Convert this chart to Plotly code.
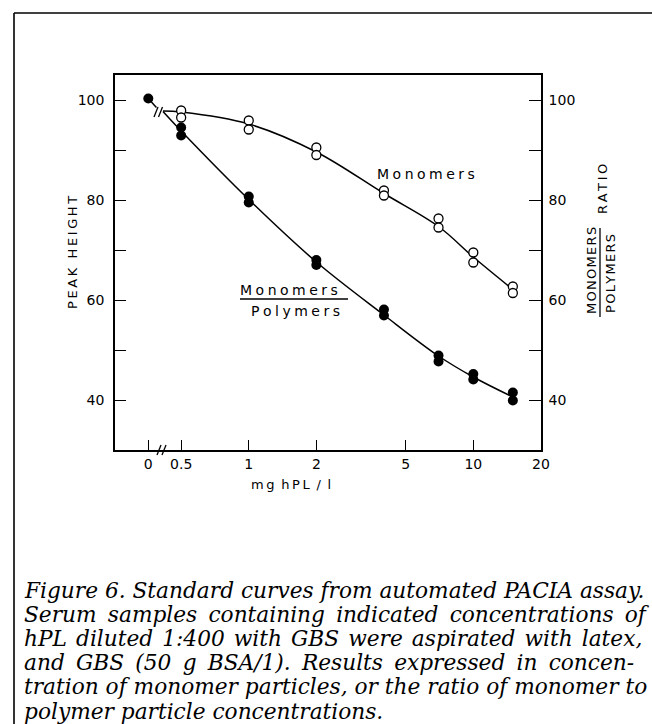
import math
import plotly.graph_objects as go

# ---------------- data ----------------
conc = [0.5, 1, 2, 4, 7, 10, 15]
mono_a = [97.9, 95.9, 90.5, 81.9, 76.3, 69.5, 62.7]
mono_b = [96.5, 94.1, 89.0, 80.9, 74.5, 67.5, 61.4]
ratio_a = [94.5, 80.7, 68.0, 58.1, 48.9, 45.2, 41.5]
ratio_b = [92.9, 79.5, 67.0, 56.9, 47.7, 44.1, 39.9]
ratio_zero = 100.3

# position used to draw the "0" concentration on the broken log axis
ZERO_POS = 0.357

# fitted curves
curve_x = [0.415, 0.5, 1, 2, 4, 7, 10, 15]
mono_curve = [97.8, 97.6, 95.2, 89.6, 81.3, 74.7, 68.6, 62.1]
ratio_curve = [97.7, 93.8, 80.1, 67.6, 57.0, 48.8, 44.6, 40.6]
ratio_lead_x = [ZERO_POS, 0.388]
ratio_lead_y = [ratio_zero, 98.5]

xtick_vals = [ZERO_POS, 0.5, 1, 2, 5, 10, 20]
xtick_text = ["0", "0.5", "1", "2", "5", "10", "20"]
ytick_vals = [40, 50, 60, 70, 80, 90, 100]
ytick_text = ["40", "", "60", "", "80", "", "100"]

caption = [
    "Figure 6. Standard curves from automated PACIA assay.",
    "Serum samples containing indicated concentrations of",
    "hPL diluted 1:400 with GBS were aspirated with latex,",
    "and GBS (50 g BSA/1). Results expressed in concen-",
    "tration of monomer particles, or the ratio of monomer to",
    "polymer particle concentrations.",
]
# extra inter-word spacing used to imitate the justified setting
caption_pad = ["", "\u2009", "\u200a", "\u2009", "", ""]

# ---------------- layout geometry (pixels) ----------------
W, H = 652, 724
L, R, T, B = 115, 541, 75, 450


def px(xp):
    return (xp - L) / (R - L)


def py(yp):
    return (B - yp) / (B - T)


def spaced(s, sep="\u2009"):
    return sep.join(list(s))


SANS = "DejaVu Sans"
fig = go.Figure()

LW = 1.5
fig.add_trace(go.Scatter(x=curve_x, y=mono_curve, mode="lines",
                         line=dict(color="black", width=LW, shape="spline", smoothing=1),
                         hoverinfo="skip", showlegend=False))
fig.add_trace(go.Scatter(x=curve_x, y=ratio_curve, mode="lines",
                         line=dict(color="black", width=LW, shape="spline", smoothing=1),
                         hoverinfo="skip", showlegend=False, yaxis="y2"))
fig.add_trace(go.Scatter(x=ratio_lead_x, y=ratio_lead_y, mode="lines",
                         line=dict(color="black", width=LW),
                         hoverinfo="skip", showlegend=False, yaxis="y2"))

for ys in (mono_a, mono_b):
    fig.add_trace(go.Scatter(x=conc, y=ys, mode="markers", name="Monomers",
                             marker=dict(symbol="circle", size=9, color="white",
                                         line=dict(color="black", width=1.3)),
                             showlegend=False))
for ys in (ratio_a, ratio_b):
    fig.add_trace(go.Scatter(x=conc, y=ys, mode="markers", name="Monomers/Polymers",
                             marker=dict(symbol="circle", size=10, color="black",
                                         line=dict(color="black", width=0)),
                             showlegend=False, yaxis="y2"))
fig.add_trace(go.Scatter(x=[ZERO_POS], y=[ratio_zero], mode="markers",
                         marker=dict(symbol="circle", size=10, color="black"),
                         showlegend=False, yaxis="y2"))

xr = [math.log10(0.2537), math.log10(20.02)]

axis_font = dict(family=SANS, size=14, color="black")
fig.update_layout(
    width=W, height=H,
    margin=dict(l=L, r=W - R, t=T, b=H - B),
    paper_bgcolor="white", plot_bgcolor="white",
    xaxis=dict(type="log", range=xr, tickvals=xtick_vals, ticktext=xtick_text,
               ticks="inside", ticklen=10, tickwidth=1.3, tickcolor="black",
               showline=True, linecolor="black", linewidth=1.6, mirror=True,
               showgrid=False, zeroline=False, tickfont=axis_font),
    yaxis=dict(range=[30, 105], tickvals=ytick_vals, ticktext=ytick_text,
               ticks="inside", ticklen=11, tickwidth=1.3, tickcolor="black",
               showline=True, linecolor="black", linewidth=1.6,
               ticklabelstandoff=6,
               showgrid=False, zeroline=False, tickfont=axis_font),
    yaxis2=dict(range=[30, 105], tickvals=ytick_vals, ticktext=ytick_text,
                overlaying="y", side="right",
                ticks="inside", ticklen=12, tickwidth=1.3, tickcolor="black",
                showline=True, linecolor="black", linewidth=1.6,
                ticklabelstandoff=3,
                showgrid=False, zeroline=False, tickfont=axis_font),
)

shapes = []
# outer frame (left and top edges)
shapes.append(dict(type="line", xref="paper", yref="paper", x0=px(14), x1=px(14),
                   y0=py(13), y1=py(H + 5), line=dict(color="black", width=1.6)))
shapes.append(dict(type="line", xref="paper", yref="paper", x0=px(14), x1=px(W + 5),
                   y0=py(13), y1=py(13), line=dict(color="black", width=1.6)))
# axis break marks
for x0 in (157, 162):
    shapes.append(dict(type="line", xref="paper", yref="paper",
                       x0=px(x0), x1=px(x0 + 4), y0=py(455), y1=py(445),
                       line=dict(color="black", width=1.3)))
# curve break marks
for x0 in (154, 158.5):
    shapes.append(dict(type="line", xref="paper", yref="paper",
                       x0=px(x0), x1=px(x0 + 4), y0=py(117), y1=py(107),
                       line=dict(color="black", width=1.3)))
# fraction bar of inner label
shapes.append(dict(type="line", xref="paper", yref="paper", x0=px(240), x1=px(348),
                   y0=py(299), y1=py(299), line=dict(color="black", width=1.3)))
# fraction bar of right axis title
shapes.append(dict(type="line", xref="paper", yref="paper", x0=px(600), x1=px(600),
                   y0=py(228), y1=py(317), line=dict(color="black", width=1.3)))
fig.update_layout(shapes=shapes)

ann = []


def text(xp, yp, s, size=13, angle=0, xanchor="center", family=SANS):
    ann.append(dict(x=px(xp), y=py(yp), xref="paper", yref="paper", text=s,
                    showarrow=False, textangle=angle, xanchor=xanchor, yanchor="middle",
                    font=dict(family=family, size=size, color="black")))


text(72, 253, spaced("PEAK") + "\u2009 \u2009" + spaced("HEIGHT"), size=13, angle=-90)
text(291, 484, "m\u2009g\u2009 h\u2009P\u2009L\u2009 /\u2009 l", size=13)
text(426, 174, spaced("Monomers", "\u2005"), size=14)
text(289, 290, spaced("Monomers", "\u2005"), size=14)
text(295, 311, spaced("Polymers", "\u2005"), size=14)
text(602, 189, spaced("RATIO"), size=13, angle=-90)
text(591, 271, spaced("MONOMERS", "\u200a"), size=13, angle=-90)
text(610, 274, spaced("POLYMERS", "\u200a"), size=13, angle=-90)

cap_y0, cap_dy = 590, 24.2
for i, line in enumerate(caption):
    s = line.replace(" ", " " + caption_pad[i]) if caption_pad[i] else line
    text(22, cap_y0 + i * cap_dy, "<i>" + s + "</i>", size=21.7,
         xanchor="left", family="DejaVu Serif")

fig.update_layout(annotations=ann)
fig.write_html("out.html", config={"displayModeBar": False},
               post_script="document.body.style.margin='0';document.body.style.overflow='hidden';")
